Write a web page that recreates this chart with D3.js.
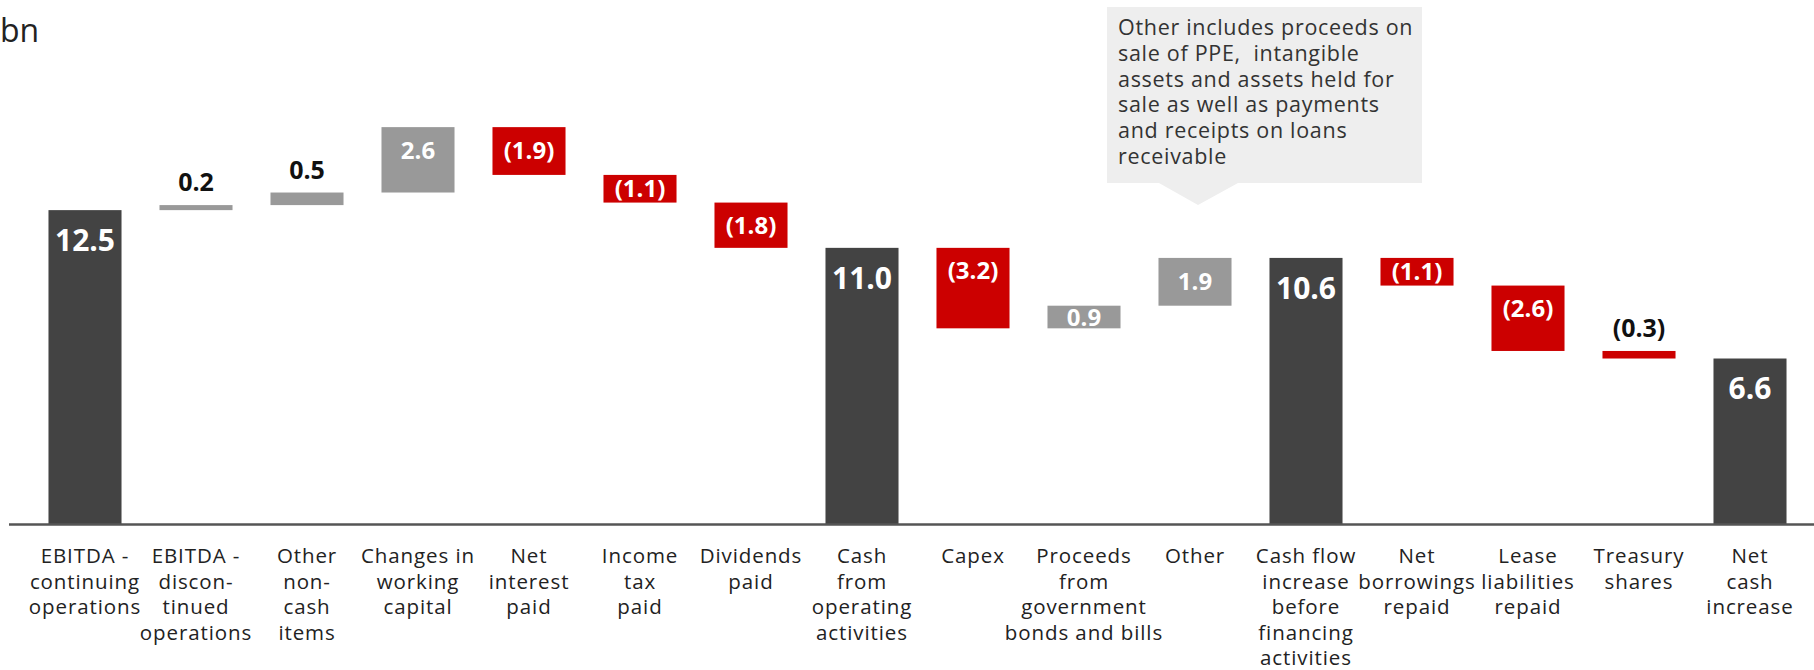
<!DOCTYPE html>
<html>
<head>
<meta charset="utf-8">
<script src="https://cdn.jsdelivr.net/npm/d3@7"></script>
<style>
  html, body { margin: 0; padding: 0; background: #ffffff; }
  svg { display: block; }
</style>
</head>
<body>
<svg id="chart" width="1814" height="670"></svg>
<script>
// Cash flow bridge, bn
const categories = [
  "EBITDA - continuing operations",
  "EBITDA - discontinued operations",
  "Other non-cash items",
  "Changes in working capital",
  "Net interest paid",
  "Income tax paid",
  "Dividends paid",
  "Cash from operating activities",
  "Capex",
  "Proceeds from government bonds and bills",
  "Other",
  "Cash flow increase before financing activities",
  "Net borrowings repaid",
  "Lease liabilities repaid",
  "Treasury shares",
  "Net cash increase"
];

const categoryLines = [
  ["EBITDA -", "continuing", "operations"],
  ["EBITDA -", "discon-", "tinued", "operations"],
  ["Other", "non-", "cash", "items"],
  ["Changes in", "working", "capital"],
  ["Net", "interest", "paid"],
  ["Income", "tax", "paid"],
  ["Dividends", "paid"],
  ["Cash", "from", "operating", "activities"],
  ["Capex"],
  ["Proceeds", "from", "government", "bonds and bills"],
  ["Other"],
  ["Cash flow", "increase", "before", "financing", "activities"],
  ["Net", "borrowings", "repaid"],
  ["Lease", "liabilities", "repaid"],
  ["Treasury", "shares"],
  ["Net", "cash", "increase"]
];

const values = [12.5, 0.2, 0.5, 2.6, -1.9, -1.1, -1.8, 11.0, -3.2, 0.9, 1.9, 10.6, -1.1, -2.6, -0.3, 6.6];

// "total" bars stand on zero; "step" bars float from the running total
const kinds = ["total", "step", "step", "step", "step", "step", "step", "total",
               "step", "step", "step", "total", "step", "step", "step", "total"];

const unitLabel = "bn";

const noteLines = [
  "Other includes proceeds on",
  "sale of PPE,  intangible",
  "assets and assets held for",
  "sale as well as payments",
  "and receipts on loans",
  "receivable"
];
const noteCategory = "Other";

// ---- derived waterfall geometry ----
let running = 0;
const bars = values.map((v, i) => {
  let start, end;
  if (kinds[i] === "total") { start = 0; end = v; running = v; }
  else { start = running; end = running + v; running = end; }
  return { cat: categories[i], lines: categoryLines[i], value: v, kind: kinds[i],
           lo: Math.min(start, end), hi: Math.max(start, end) };
});

const colors = { total: "#434343", up: "#999999", down: "#cc0000" };
const fmt = v => v < 0 ? "(" + d3.format(".1f")(-v) + ")" : d3.format(".1f")(v);

const svg = d3.select("#chart");
const W = 1814;

const x = d3.scaleBand()
  .domain(categories)
  .range([29.5, 1805.5])
  .paddingInner(0.342)
  .paddingOuter(0.171);

const y = d3.scaleLinear()
  .domain([0, 16])
  .range([524.5, 524.5 - 16 * 25.15]);

const FONT = "'Open Sans', 'Noto Sans', sans-serif";

// unit label
svg.append("text")
  .attr("x", 0).attr("y", 42)
  .attr("font-family", FONT)
  .attr("font-size", 32)
  .attr("fill", "#222")
  .text(unitLabel);

// bars
svg.append("g").selectAll("rect")
  .data(bars)
  .join("rect")
  .attr("x", d => x(d.cat))
  .attr("width", x.bandwidth())
  .attr("y", d => y(d.hi))
  .attr("height", d => Math.max(3, y(d.lo) - y(d.hi)))
  .attr("fill", d => d.kind === "total" ? colors.total : (d.value >= 0 ? colors.up : colors.down));

// value labels
const labels = svg.append("g").attr("font-family", FONT).attr("font-weight", 700).attr("text-anchor", "middle");
bars.forEach(d => {
  const cx = x(d.cat) + x.bandwidth() / 2;
  const top = y(d.hi), bottom = y(d.lo), h = bottom - top;
  if (d.kind === "total") {
    labels.append("text")
      .attr("x", cx).attr("y", top + 30).attr("dy", "0.36em")
      .attr("font-size", 30).attr("fill", "#ffffff")
      .text(fmt(d.value));
  } else if (h < 16) {
    labels.append("text")
      .attr("x", cx).attr("y", top - 14)
      .attr("font-size", 25).attr("fill", "#111111")
      .text(fmt(d.value));
  } else {
    labels.append("text")
      .attr("x", cx).attr("y", Math.min(top + 23, (top + bottom) / 2)).attr("dy", "0.36em")
      .attr("font-size", 24).attr("fill", "#ffffff")
      .text(fmt(d.value));
  }
});

// baseline
svg.append("line")
  .attr("x1", 9).attr("x2", W)
  .attr("y1", y(0)).attr("y2", y(0))
  .attr("stroke", "#555555").attr("stroke-width", 2.5);

// category labels
const catG = svg.append("g").attr("font-family", FONT).attr("font-size", 20.5)
  .attr("letter-spacing", 0.9)
  .attr("fill", "#222").attr("text-anchor", "middle");
bars.forEach(d => {
  const t = catG.append("text")
    .attr("x", x(d.cat) + x.bandwidth() / 2)
    .attr("y", 563);
  d.lines.forEach((ln, k) => {
    t.append("tspan")
      .attr("x", x(d.cat) + x.bandwidth() / 2)
      .attr("dy", k === 0 ? 0 : 25.5)
      .text(ln);
  });
});

// note callout pointing at the "Other" column
const noteTipX = x(noteCategory) + x.bandwidth() / 2 + 3;
const box = { x0: 1107, x1: 1422, y0: 7, y1: 183 };
svg.append("path")
  .attr("d", `M${box.x0},${box.y0}H${box.x1}V${box.y1}H${noteTipX + 40}L${noteTipX},205L${noteTipX - 39},${box.y1}H${box.x0}Z`)
  .attr("fill", "#eeeeee");
const note = svg.append("text")
  .attr("font-family", FONT).attr("font-size", 21.5).attr("letter-spacing", 0.7).attr("fill", "#333");
noteLines.forEach((ln, k) => {
  note.append("tspan")
    .attr("x", 1118)
    .attr("y", 35 + k * 25.8)
    .attr("xml:space", "preserve")
    .text(ln);
});
</script>
</body>
</html>
